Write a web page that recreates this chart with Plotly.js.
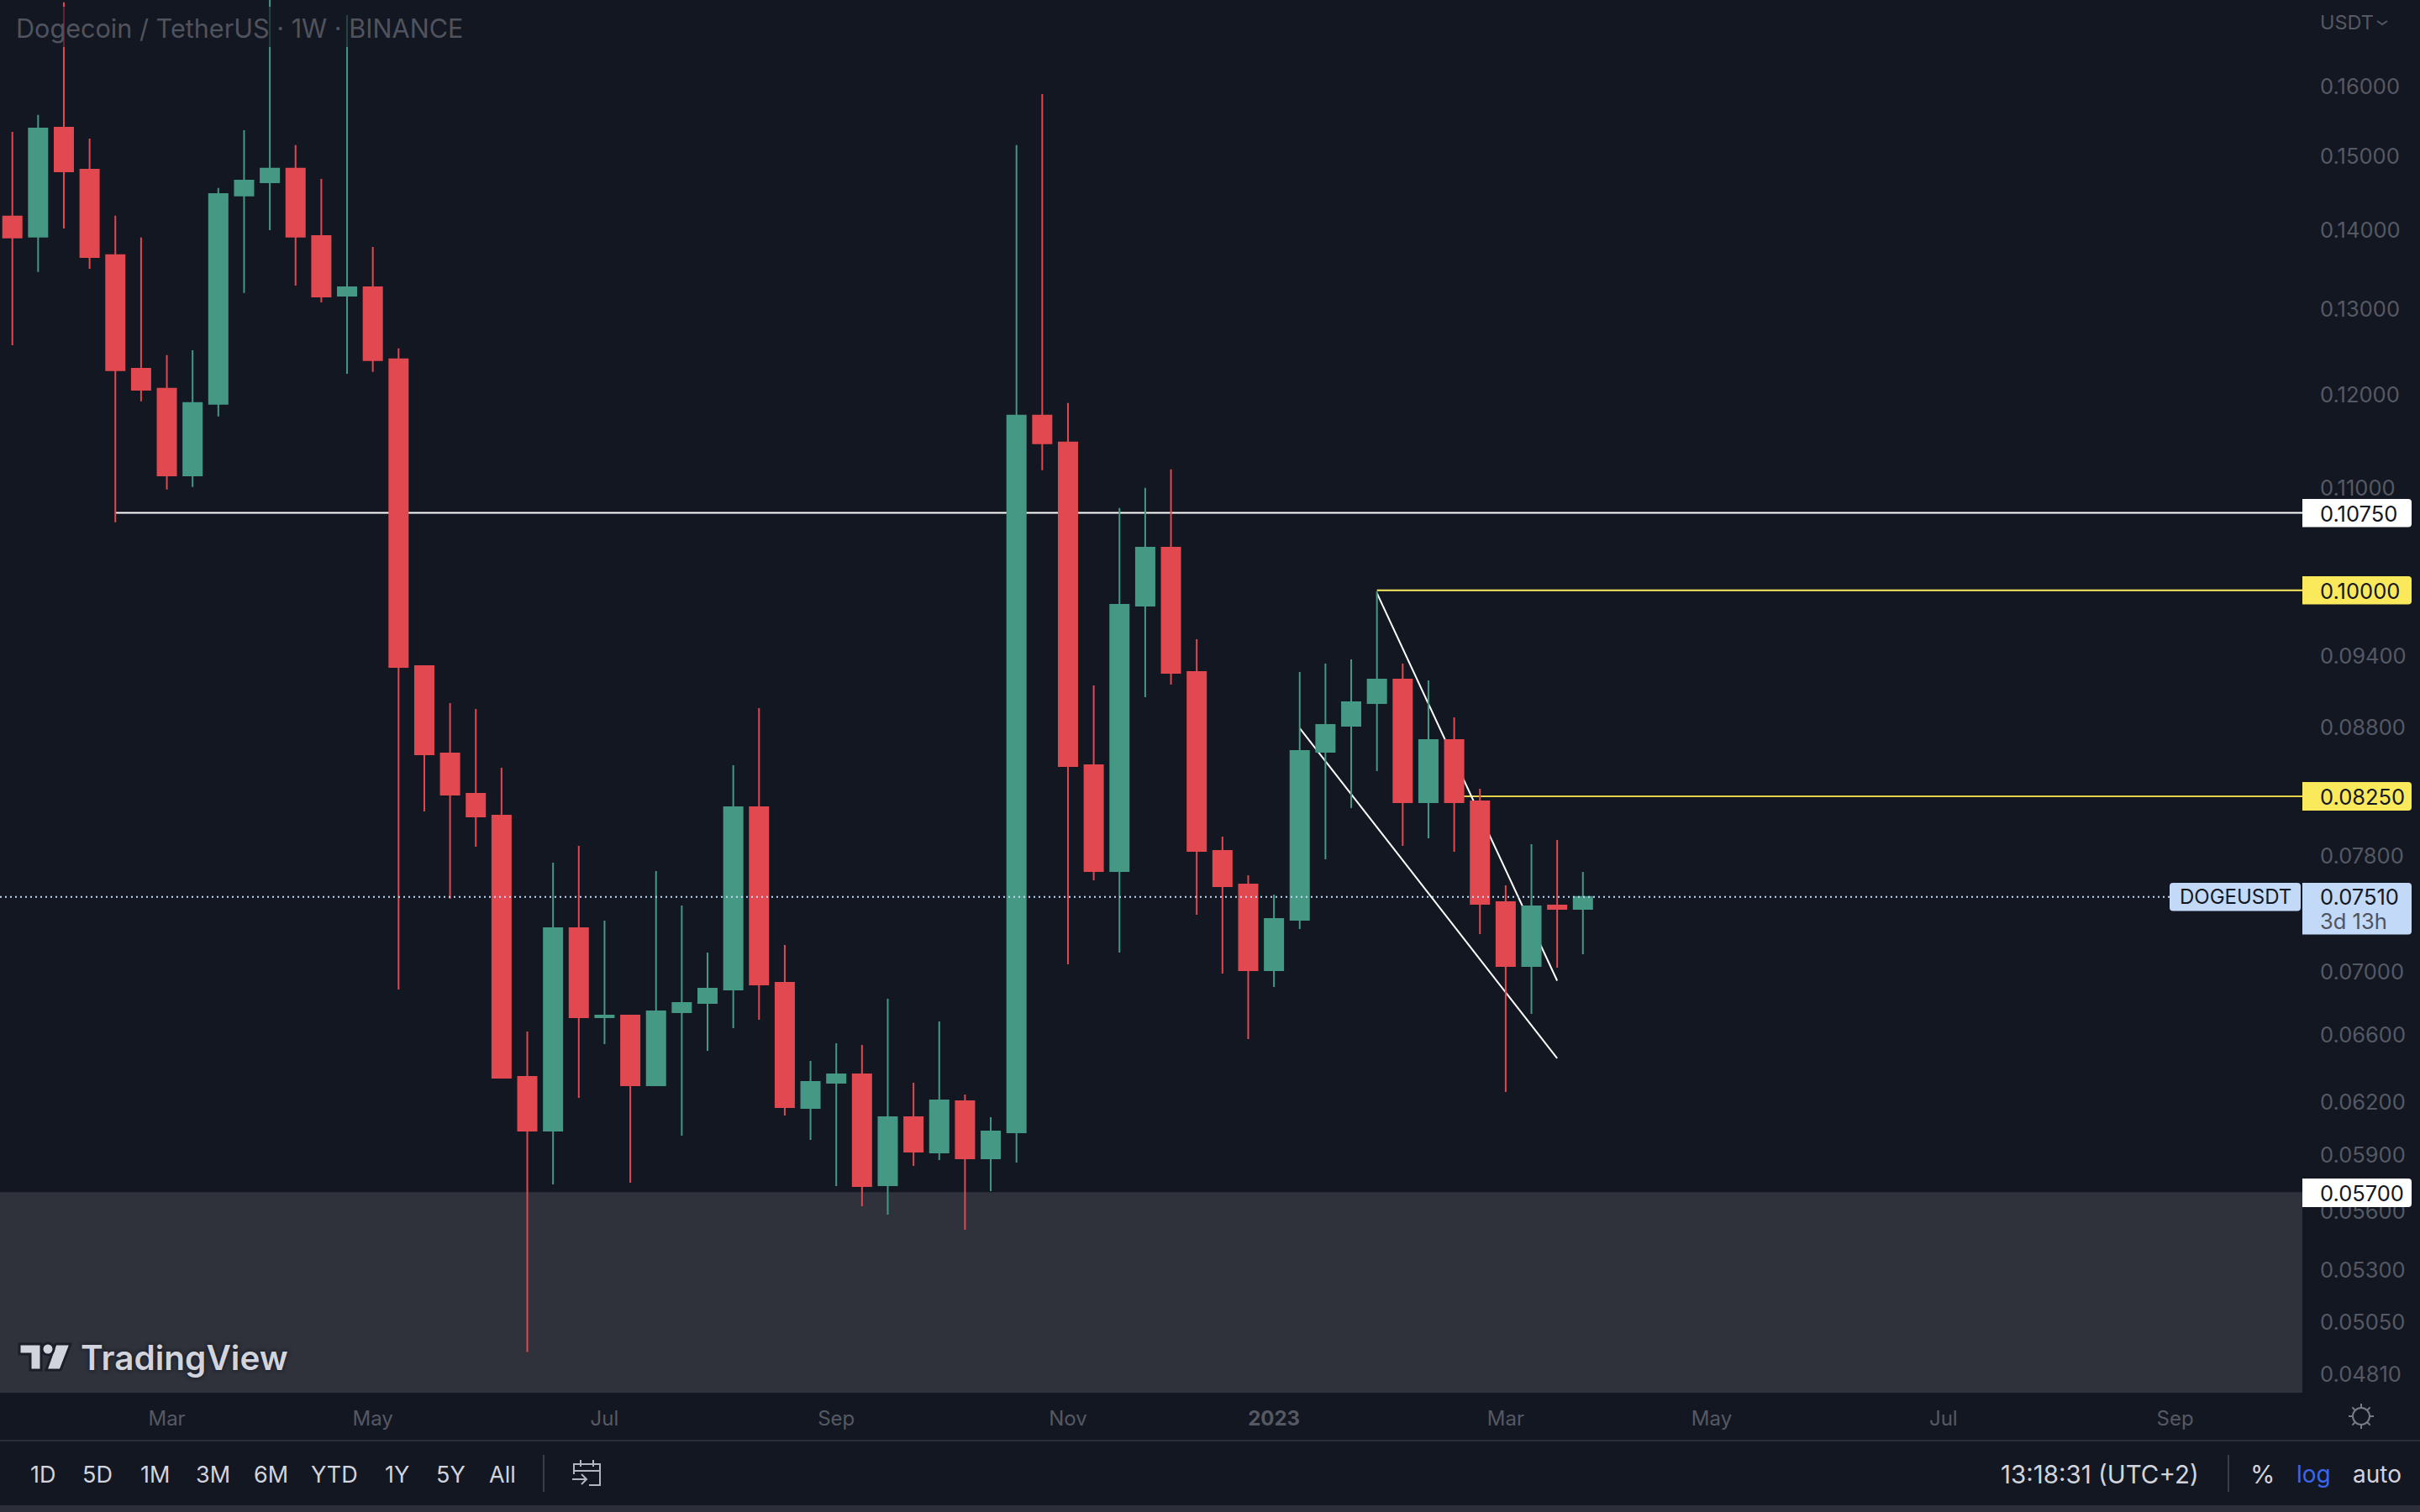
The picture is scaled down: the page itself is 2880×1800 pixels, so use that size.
<!DOCTYPE html>
<html>
<head>
<meta charset="utf-8">
<script src="https://cdn.plot.ly/plotly-3.0.1.min.js"></script>
<style>html,body{margin:0;padding:0;background:#131722;overflow:hidden}</style>
</head>
<body>
<div id="chart" style="width:2880px;height:1800px"></div>
<script>
// ---- data ----
const firstWeek = '2022-01-24';
const candleCount = 62;
const highs = [.15342,.15585,.17312,.15246,.14185,.13899,.12454,.12512,.14557,.15366,.1755,.15151,.14683,.17109,.13779,.12532,.09316,.08999,.08950,.08472,.06623,.07754,.07876,.07345,.06728,.07693,.07450,.07130,.08492,.08957,.07180,.06444,.06551,.06540,.06829,.06314,.06685,.06244,.06114,.15151,.15893,.11909,.09149,.10797,.11002,.11194,.09552,.07945,.07663,.07526,.09265,.09338,.09374,.09990,.09338,.09192,.08880,.08308,.07591,.07889,.07920,.07687];
const lows = [.12571,.13459,.14019,.13501,.10654,.11928,.10985,.11011,.11761,.13198,.13997,.13291,.13084,.12240,.12260,.06888,.08134,.07497,.07870,.06338,.04910,.05742,.06225,.06545,.05751,.06294,.06009,.06504,.06644,.06696,.06123,.05986,.05733,.05626,.05582,.05842,.05874,.05504,.05706,.05860,.11185,.07052,.07627,.07130,.09049,.09156,.07386,.06991,.06576,.06904,.07288,.07778,.08159,.08446,.07876,.07932,.07833,.07254,.06259,.06733,.07030,.07118];
const opens = [.14174,.13910,.15402,.14810,.13672,.12298,.12069,.11132,.11900,.14455,.14637,.14822,.13920,.13166,.13270,.12405,.09316,.08586,.08269,.08102,.06348,.06037,.07294,.06712,.06722,.06299,.06743,.06802,.06888,.08166,.06931,.06167,.06314,.06363,.05737,.06114,.05916,.06205,.05883,.06028,.11770,.11478,.08492,.07693,.09857,.10406,.09265,.07839,.07597,.07013,.07351,.08599,.08811,.08999,.09199,.08204,.08694,.08211,.07473,.07041,.07450,.07426];
const closes = [.13899,.15390,.14787,.13650,.12279,.12059,.11132,.11909,.14477,.14660,.14822,.13910,.13156,.13270,.12395,.09308,.08579,.08262,.08095,.06343,.06037,.07294,.06712,.06722,.06299,.06749,.06802,.06893,.08166,.06920,.06171,.06318,.06363,.05733,.06114,.05920,.06210,.05883,.06033,.11770,.11469,.08486,.07693,.09864,.10406,.09257,.07839,.07585,.07013,.07357,.08606,.08818,.09007,.09199,.08204,.08694,.08204,.07461,.07041,.07444,.07426,.07510];

const priceTicks = [.16,.15,.14,.13,.12,.11,.094,.088,.078,.07,.066,.062,.059,.056,.053,.0505,.0481];
const monthTicks = ['2022-03-07','2022-05-02','2022-07-04','2022-09-05','2022-11-07','2023-01-02','2023-03-06','2023-05-01','2023-07-03','2023-09-04'];
const monthLabels = ['Mar','May','Jul','Sep','Nov','<b>2023</b>','Mar','May','Jul','Sep'];
const ranges = ['1D','5D','1M','3M','6M','YTD','1Y','5Y','All'];
const rangeCentres = [51,116,184,253,322,398,472,536,598];

const levelWhite = 0.1075, levelYellowHigh = 0.10, levelYellowLow = 0.0825, levelZone = 0.057, lastPrice = 0.0751;
const levelWhiteStart = '2022-02-21', levelHighStart = '2023-01-30', levelLowStart = '2023-02-20';
const trendA = {x:['2023-01-30','2023-03-20'], y:[0.09973,0.06945]};
const trendB = {x:['2023-01-09','2023-03-20'], y:[0.08792,0.06459]};
const xRange = ['2022-01-20 15:24','2023-10-08 14:24'];
const yTop = 0.17351, yBottom = 0.04727;

// ---- colours ----
const BG='#131722', UP='#449884', DOWN='#E1484F', TICK='#565963', TXT='#D1D4DC', BLUE='#C3D9F8', YEL='#FBE95C';
const FONT='Inter, "Noto Sans", sans-serif';

// ---- helpers (page chrome placed in pixels) ----
const W=2740, H=1658;
const px=v=>v/W, py=v=>1-v/H;
const dates=[]; {const d0=new Date(firstWeek+'T00:00:00Z'); for(let i=0;i<candleCount;i++){dates.push(new Date(d0.getTime()+i*7*864e5).toISOString().slice(0,10));}}
const shapes=[], annos=[];
function rect(x0,y0,x1,y1,fill,layer){shapes.push({type:'rect',xref:'paper',yref:'paper',x0:px(x0),x1:px(x1),y0:py(y0),y1:py(y1),fillcolor:fill,line:{width:0},layer:layer||'above'});}
function seg(x0,y0,x1,y1,c,w){shapes.push({type:'line',xref:'paper',yref:'paper',x0:px(x0),x1:px(x1),y0:py(y0),y1:py(y1),line:{color:c,width:w||2},layer:'above'});}
function poly(pts,opt){const d=pts.map((p,i)=>(i?'L':'M')+px(p[0])+' '+py(p[1])).join(' ')+(opt.open?'':' Z');
  shapes.push({type:'path',xref:'paper',yref:'paper',path:d,fillcolor:opt.fill||'rgba(0,0,0,0)',line:{color:opt.line||'rgba(0,0,0,0)',width:opt.w||0},layer:'above'});}
function tag(x0,y0,x1,y1,fill,leftRound){const r=4,l=leftRound?r:0;
  const d='M'+px(x0+l)+' '+py(y0)+' L'+px(x1-r)+' '+py(y0)+' Q'+px(x1)+' '+py(y0)+' '+px(x1)+' '+py(y0+r)+' L'+px(x1)+' '+py(y1-r)+' Q'+px(x1)+' '+py(y1)+' '+px(x1-r)+' '+py(y1)+' L'+px(x0+l)+' '+py(y1)+(l?(' Q'+px(x0)+' '+py(y1)+' '+px(x0)+' '+py(y1-l)+' L'+px(x0)+' '+py(y0+l)+' Q'+px(x0)+' '+py(y0)+' '+px(x0+l)+' '+py(y0)):'')+' Z';
  shapes.push({type:'path',xref:'paper',yref:'paper',path:d,fillcolor:fill,line:{width:0},layer:'above'});}
function text(t,x,y,size,color,anchor,extra){annos.push(Object.assign({text:t,xref:'paper',yref:'paper',x:px(x),y:py(y),xanchor:anchor||'left',yanchor:'middle',showarrow:false,borderpad:0,font:Object.assign({family:FONT,size:size,color:color},(extra||{}))}));}

// ---- drawings on the price scale ----
shapes.push({type:'rect',xref:'paper',yref:'y',x0:0,x1:1,y0:yBottom,y1:levelZone,fillcolor:'#2F323B',line:{width:0},layer:'below'});
function hline(x0,y,c){shapes.push({type:'line',xref:'x',yref:'y',x0:x0,x1:xRange[1],y0:y,y1:y,line:{color:c,width:2},layer:'below'});}
hline(levelWhiteStart,levelWhite,'#FFFFFF');
hline(levelHighStart,levelYellowHigh,'#FDEB5E');
hline(levelLowStart,levelYellowLow,'#E6D34B');
[trendA,trendB].forEach(t=>shapes.push({type:'line',xref:'x',yref:'y',x0:t.x[0],x1:t.x[1],y0:t.y[0],y1:t.y[1],line:{color:'#FFFFFF',width:2},layer:'below'}));
shapes.push({type:'line',xref:'paper',yref:'y',x0:0,x1:px(2582),y0:lastPrice,y1:lastPrice,line:{color:BLUE,width:2,dash:'2px,4px'},layer:'above'});

// ---- title backdrop and title ----
rect(0,8,556,56,'rgba(19,23,34,0.65)');
text('Dogecoin / TetherUS · 1W · BINANCE',18,33,30.6,'#50535E');

// ---- price labels ----
const LAB=25.5;
tag(2740,594,2870,627.5,'#FFFFFF'); text('0.10750',2760,611,LAB,'#131722');
tag(2740,686,2870,719.5,YEL); text('0.10000',2760,703,LAB,'#131722');
tag(2740,931,2870,965,YEL); text('0.08250',2760,948,LAB,'#131722');
tag(2740,1051,2870,1112.5,BLUE); text('0.07510',2760,1067.5,LAB,'#131722'); text('3d 13h',2760,1096,LAB,'#50535E');
tag(2582,1051,2738,1084.5,BLUE,true); text('DOGEUSDT',2660,1067.5,24,'#131722','center');
tag(2740,1403,2870,1437,'#FFFFFF'); text('0.05700',2760,1420,LAB,'#131722');
text('USDT',2760,27,23.5,TICK);
poly([[2829,25],[2835,29],[2841,25]],{open:true,line:TICK,w:2});

// ---- TradingView mark ----
const MARK='#D1D4DC', EDGE='#1B1E29';
poly([[23,1600],[49,1600],[49,1631],[36,1631],[36,1612],[23,1612]],{fill:MARK,line:EDGE,w:3});
poly([[66,1600],[84,1600],[72,1631],[55,1631]],{fill:MARK,line:EDGE,w:3});
shapes.push({type:'circle',xref:'paper',yref:'paper',x0:px(50),x1:px(64),y0:py(1599),y1:py(1613),fillcolor:MARK,line:{color:EDGE,width:3},layer:'above'});
text('TradingView',95,1616,40.5,MARK,'left',{shadow:'0 0 4px #1B1E29, 0 0 4px #1B1E29',weight:600});

// ---- bottom bar ----
rect(0,1714,2880,1716,'#2A2E39');
rect(0,1792,2880,1800,'#2C2F3A');
ranges.forEach((r,i)=>text(r,rangeCentres[i],1755,27,TXT,'center'));
rect(646,1732,648,1776,'#3A3D48');
rect(2651,1732,2653,1776,'#3A3D48');
text('13:18:31 (UTC+2)',2380,1755,29.5,TXT);
text('%',2692,1755,30,TXT,'center');
text('log',2753,1755,28,'#3A67EB','center');
text('auto',2829,1755,28,TXT,'center');
// calendar icon
const IC='#B2B5BE';
poly([[683,1755],[683,1743],[714,1743],[714,1768],[701,1768]],{open:true,line:IC,w:2});
seg(683,1751,714,1751,IC,2); seg(691,1738,691,1746,IC,2); seg(706,1738,706,1746,IC,2);
seg(681,1761,698,1761,IC,2); poly([[692,1755],[698,1761],[692,1767]],{open:true,line:IC,w:2});
// sun icon
const SUN='#787B86', sx=2810, sy=1686;
shapes.push({type:'circle',xref:'paper',yref:'paper',x0:px(sx-10),x1:px(sx+10),y0:py(sy+10),y1:py(sy-10),line:{color:SUN,width:2},layer:'above'});
[0,45,90,135,180,225,270,315].forEach(a=>{const c=Math.cos(a*Math.PI/180),s=Math.sin(a*Math.PI/180);seg(sx+10*c,sy+10*s,sx+15*c,sy+15*s,SUN,2);});

// ---- plot ----
const trace={type:'candlestick',x:dates,open:opens,high:highs,low:lows,close:closes,whiskerwidth:0,hoverinfo:'skip',
  increasing:{line:{color:UP,width:2},fillcolor:UP},decreasing:{line:{color:DOWN,width:2},fillcolor:DOWN}};
const layout={width:2880,height:1800,margin:{l:0,r:140,t:0,b:142,pad:0},paper_bgcolor:BG,plot_bgcolor:BG,showlegend:false,
  boxgap:0.282,boxgroupgap:0,dragmode:false,
  xaxis:{type:'date',range:xRange,rangeslider:{visible:false},showgrid:false,zeroline:false,showline:false,ticks:'',
    tickmode:'array',tickvals:monthTicks,ticktext:monthLabels,tickangle:0,ticklabelstandoff:14,tickfont:{family:FONT,size:24,color:TICK},automargin:false},
  yaxis:{type:'log',side:'right',range:[Math.log10(yBottom),Math.log10(yTop)],showgrid:false,zeroline:false,showline:false,ticks:'',
    tickmode:'array',tickvals:priceTicks,ticktext:priceTicks.map(v=>v.toFixed(5)),ticklabelstandoff:20,tickfont:{family:FONT,size:25.5,color:TICK},automargin:false},
  shapes:shapes,annotations:annos};
Plotly.newPlot('chart',[trace],layout,{displayModeBar:false,staticPlot:true});
</script>
</body>
</html>
